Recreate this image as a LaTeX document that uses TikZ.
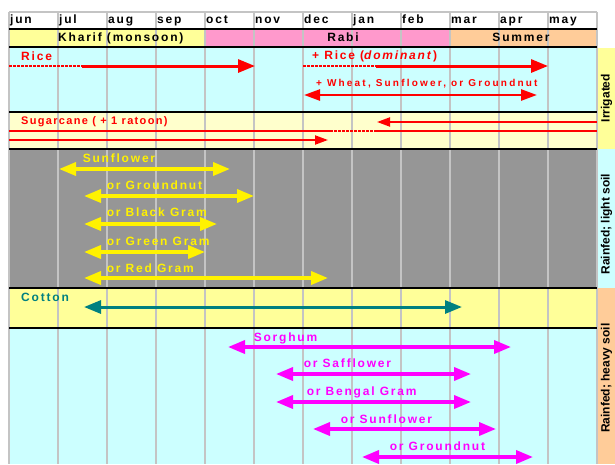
\documentclass[tikz,border=0pt]{standalone}
\usepackage{fontspec}
\setmainfont{Liberation Sans}
\newfontfamily\wide[LetterSpace=15]{Liberation Sans}
\newfontfamily\wider[LetterSpace=22]{Liberation Sans}
\newfontfamily\narrowish[LetterSpace=12]{Liberation Sans}
\usetikzlibrary{arrows.meta}

\definecolor{paleblue}{HTML}{CCFFFF}
\definecolor{paleyellow}{HTML}{FFFF99}
\definecolor{cream}{HTML}{FFFFCC}
\definecolor{rosepink}{HTML}{FF99CC}
\definecolor{peach}{HTML}{FFCC99}
\definecolor{midgray}{HTML}{969696}
\definecolor{gridgray}{HTML}{C4C4C4}
\definecolor{tealish}{HTML}{008080}
\definecolor{brightmag}{HTML}{FF00FF}

\tikzset{
  lbl/.style={anchor=west, inner sep=0pt, text height=8.5pt, text depth=2pt,
    font=\wide\bfseries\fontsize{12}{14}\selectfont},
  side/.style={rotate=90, inner sep=0pt, font=\bfseries\fontsize{12}{14}\selectfont},
  gridline/.style={gridgray, line width=1.3pt},
  bar/.style={line width=1.8pt},
  bigtip/.style={>={Triangle[length=17pt,width=13pt]}},
  smalltip/.style={>={Triangle[length=13pt,width=9pt]}},
  dots/.style={line width=2pt, dash pattern=on 2.5pt off 1.5pt},
}

\begin{document}
\begin{tikzpicture}[x=1pt, y=-1pt]
    \useasboundingbox (0,0) rectangle (615,464);

    % Backgrounds
    \fill [white] (9,12) rectangle (597,29);
    \fill [paleyellow] (9,29) rectangle (205,47);
    \fill [rosepink] (205,29) rectangle (450,47);
    \fill [peach] (450,29) rectangle (597,47);
    \fill [paleblue] (9,47) rectangle (597,112);
    \fill [cream] (9,112) rectangle (597,149);
    \fill [midgray] (9,149) rectangle (597,288);
    \fill [paleyellow] (9,288) rectangle (597,328);
    \fill [paleblue] (9,328) rectangle (597,464);

    % Side column
    \fill [paleyellow] (598,48) rectangle (615,149);
    \fill [paleblue] (598,149) rectangle (615,288);
    \fill [peach] (598,288) rectangle (615,464);
    \node [side] (irr) at (606.5,98) {Irrigated};
    \node [side] (light) at (606.5,224) {Rainfed; light  soil};
    \node [side] (heavy) at (606.5,378) {Rainfed; heavy soil};

    % Month grid
    \draw [gridline] (9,12) -- (597,12);
    \foreach \i in {0,...,12}
        \draw [gridline] ({9+49*\i},12) -- ({9+49*\i},464);
    \foreach \m [count=\i from 0] in {jun,jul,aug,sep,oct,nov,dec,jan,feb,mar,apr,may}
        \node [lbl] (m\i) at ({10+49*\i},20.5) {\m};

    % Section borders
    \foreach \y in {29,47,112,149,288,328}
        \draw [bar] (9,\y) -- (597,\y);

    % Seasons
    \node [lbl] (kharif) at (58,38) {Kharif (monsoon)};
    \node [lbl, anchor=center] (rabi) at (343,38) {Rabi};
    \node [lbl, anchor=center] (summer) at (521,38) {Summer};

    % Irrigated rice
    \node [lbl, red] (rice) at (21,57) {Rice};
    \draw [red, dots] (9,66) -- (82,66);
    \draw [red, line width=3pt, bigtip, ->] (82,66) -- (255,66);
    \node [lbl, red] (rice2) at (312,56) {+ Rice (\textit{dominant})};
    \draw [red, dots] (303,66) -- (376,66);
    \draw [red, line width=3pt, bigtip, ->] (376,66) -- (548,66);
    \node [lbl, red, font=\wider\bfseries\fontsize{10}{12}\selectfont] (wheat) at (316,83) {+ Wheat, Sunflower, or Groundnut};
    \draw [red, line width=2.5pt, >={Triangle[length=16pt,width=11pt]}, <->] (304,95) -- (537,95);

    % Sugarcane
    \node [lbl, red, font=\narrowish\bfseries\fontsize{11}{13}\selectfont] (cane) at (21,121) {Sugarcane ( + 1 ratoon)};
    \draw [red, line width=2pt, smalltip, <-] (377,122) -- (597,122);
    \draw [red, line width=2pt] (9,131) -- (330,131);
    \draw [red, dots] (330,131) -- (376,131);
    \draw [red, line width=2pt] (376,131) -- (597,131);
    \draw [red, line width=2pt, smalltip, ->] (9,140) -- (328,140);

    % Rainfed, light soil
    \begin{scope}[yellow, line width=3.5pt, bigtip]
        \node [lbl, yellow] (sun) at (81,159) {Sunflower};
        \draw [<->] (59,169) -- (230,169);
        \node [lbl, yellow] (gnut) at (105,186) {or Groundnut};
        \draw [<->] (84,196) -- (254,196);
        \node [lbl, yellow] (black) at (105,213) {or Black Gram};
        \draw [<->] (84,224) -- (217,224);
        \node [lbl, yellow] (green) at (105,242) {or Green Gram};
        \draw [<->] (84,252) -- (205,252);
        \node [lbl, yellow] (redg) at (105,269) {or Red Gram};
        \draw [<->] (84,278) -- (328,278);
    \end{scope}

    % Cotton
    \node [lbl, tealish] (cotton) at (21,298) {Cotton};
    \draw [tealish, line width=3pt, bigtip, <->] (84,307) -- (462,307);

    % Rainfed, heavy soil
    \begin{scope}[brightmag, line width=3.5pt, bigtip]
        \node [lbl, brightmag] (sorg) at (252,338) {Sorghum};
        \draw [<->] (228,347) -- (511,347);
        \node [lbl, brightmag] (saff) at (302,364) {or Safflower};
        \draw [<->] (276,374) -- (471,374);
        \node [lbl, brightmag] (bengal) at (305,392) {or Bengal Gram};
        \draw [<->] (276,402) -- (471,402);
        \node [lbl, brightmag] (sun2) at (339,420) {or Sunflower};
        \draw [<->] (313,429) -- (496,429);
        \node [lbl, brightmag] (gnut2) at (388,447) {or Groundnut};
        \draw [<->] (362,457) -- (533,457);
    \end{scope}
\end{tikzpicture}
\end{document}
